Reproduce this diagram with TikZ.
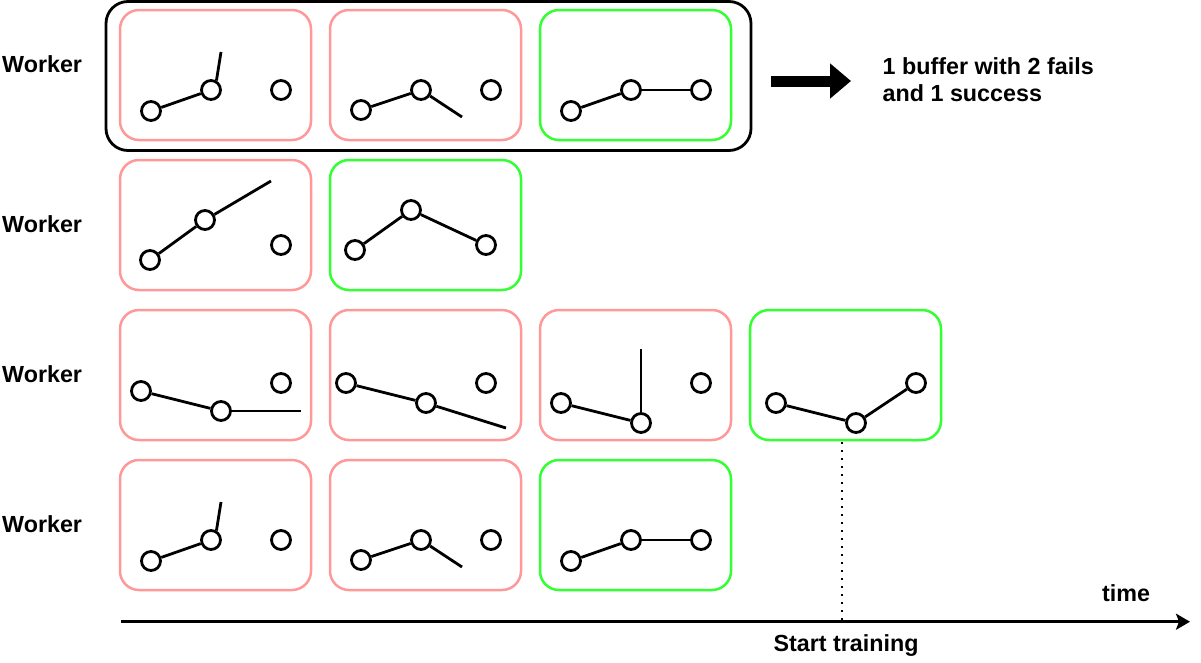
\documentclass[tikz,border=0pt]{standalone}
\usepackage{fontspec}
\setmainfont{Liberation Sans}
\usetikzlibrary{arrows.meta}
\definecolor{failc}{HTML}{FF9999}
\definecolor{succc}{HTML}{33FF33}
\begin{document}
\begin{tikzpicture}[x=1pt,y=-1pt,
  boxbase/.style={line width=2.5pt, rounded corners=19pt, minimum width=191pt, minimum height=130pt, inner sep=0pt},
  failbox/.style={boxbase, draw=failc},
  succbox/.style={boxbase, draw=succc},
  joint/.style={circle, draw, line width=2.8pt, fill=white, minimum size=19pt, inner sep=0pt},
  link/.style={line width=2.8pt},
  lbl/.style={font=\bfseries\fontsize{23.3}{27.7}\selectfont, inner sep=0pt},
]
\useasboundingbox (0,0) rectangle (1201,662);

% outer buffer box
\node[draw, line width=2.8pt, rounded corners=22pt, minimum width=645pt, minimum height=149pt, inner sep=0pt] (buffer) at (428.5,76) {};

% boxes
\node[failbox] (r1c1) at (215.5,75) {};
\node[failbox] (r1c2) at (425.5,75) {};
\node[succbox] (r1c3) at (635.5,75) {};
\node[failbox] (r2c1) at (215.5,225) {};
\node[succbox] (r2c2) at (425.5,225) {};
\node[failbox] (r3c1) at (215.5,375) {};
\node[failbox] (r3c2) at (425.5,375) {};
\node[failbox] (r3c3) at (635.5,375) {};
\node[succbox] (r3c4) at (845.5,375) {};
\node[failbox] (r4c1) at (215.5,525) {};
\node[failbox] (r4c2) at (425.5,525) {};
\node[succbox] (r4c3) at (635.5,525) {};

% labels
\node[lbl, anchor=base west] (w1) at (2,72) {Worker};
\node[lbl, anchor=base west] (w2) at (2,232) {Worker};
\node[lbl, anchor=base west] (w3) at (2,382) {Worker};
\node[lbl, anchor=base west] (w4) at (2,532) {Worker};

% ---- row 1
\node[joint] (a11) at (151,111) {};
\node[joint] (b11) at (211,90) {};
\node[joint] (c11) at (281,90) {};
\coordinate (e11) at (221,52);
\draw[link] (a11) -- (b11);
\draw[link] (b11.60) -- (e11);

\node[joint] (a12) at (361,110) {};
\node[joint] (b12) at (421,90) {};
\node[joint] (c12) at (491,90) {};
\coordinate (e12) at (462,117);
\draw[link] (a12) -- (b12);
\draw[link] (b12) -- (e12);

\node[joint] (a13) at (571,111) {};
\node[joint] (b13) at (631,90) {};
\node[joint] (c13) at (701,90) {};
\draw[link] (a13) -- (b13);
\draw[link] (b13) -- (c13);

% ---- row 2
\node[joint] (a21) at (150,260) {};
\node[joint] (b21) at (205,220) {};
\node[joint] (c21) at (281,245) {};
\coordinate (e21) at (271,181);
\draw[link] (a21) -- (b21);
\draw[link] (b21) -- (e21);

\node[joint] (a22) at (355,250) {};
\node[joint] (b22) at (411,210) {};
\node[joint] (c22) at (486,245) {};
\draw[link] (a22) -- (b22);
\draw[link] (b22) -- (c22);

% ---- row 3
\node[joint] (a31) at (141,391) {};
\node[joint] (b31) at (221,411) {};
\node[joint] (c31) at (281,383) {};
\coordinate (e31) at (301,411);
\draw[link] (a31) -- (b31);
\draw[link] (b31) -- (e31);

\node[joint] (a32) at (346,383) {};
\node[joint] (b32) at (426,403) {};
\node[joint] (c32) at (486,383) {};
\coordinate (e32) at (506,428);
\draw[link] (a32) -- (b32);
\draw[link] (b32) -- (e32);

\node[joint] (a33) at (561,403) {};
\node[joint] (b33) at (641,423) {};
\node[joint] (c33) at (701,383) {};
\coordinate (e33) at (641,349);
\draw[link] (a33) -- (b33);
\draw[link] (b33) -- (e33);

\node[joint] (a34) at (776,403) {};
\node[joint] (b34) at (856,423) {};
\node[joint] (c34) at (916,383) {};
\draw[link] (a34) -- (b34);
\draw[link] (b34) -- (c34);

% ---- row 4
\node[joint] (a41) at (151,561) {};
\node[joint] (b41) at (211,540) {};
\node[joint] (c41) at (281,540) {};
\coordinate (e41) at (221,502);
\draw[link] (a41) -- (b41);
\draw[link] (b41.60) -- (e41);

\node[joint] (a42) at (361,560) {};
\node[joint] (b42) at (421,540) {};
\node[joint] (c42) at (491,540) {};
\coordinate (e42) at (462,567);
\draw[link] (a42) -- (b42);
\draw[link] (b42) -- (e42);

\node[joint] (a43) at (571,561) {};
\node[joint] (b43) at (631,540) {};
\node[joint] (c43) at (701,540) {};
\draw[link] (a43) -- (b43);
\draw[link] (b43) -- (c43);

% big arrow and caption
\coordinate (arrS) at (771,81);
\coordinate (arrE) at (851,81);
\draw[line width=11pt, -{Triangle[length=21pt,width=34pt]}] (arrS) -- (arrE);
\node[lbl, anchor=north west, align=left] (cap) at (882.5,57) {1 buffer with 2 fails\\and 1 success};

% time axis
\coordinate (t0) at (121,621.7);
\coordinate (t1) at (1190,621.7);
\draw[line width=3pt, -{Stealth[length=14pt,width=16pt,inset=3pt]}] (t0) -- (t1);
\node[lbl, anchor=base] (time) at (1126,601) {time};

% start training
\coordinate (ds) at (842,442);
\coordinate (de) at (842,620);
\draw[line width=1.5pt, dash pattern=on 1.5pt off 6.5pt] (ds) -- (de);
\node[lbl, anchor=base] (st) at (846,651.5) {Start training};
\end{tikzpicture}
\end{document}
